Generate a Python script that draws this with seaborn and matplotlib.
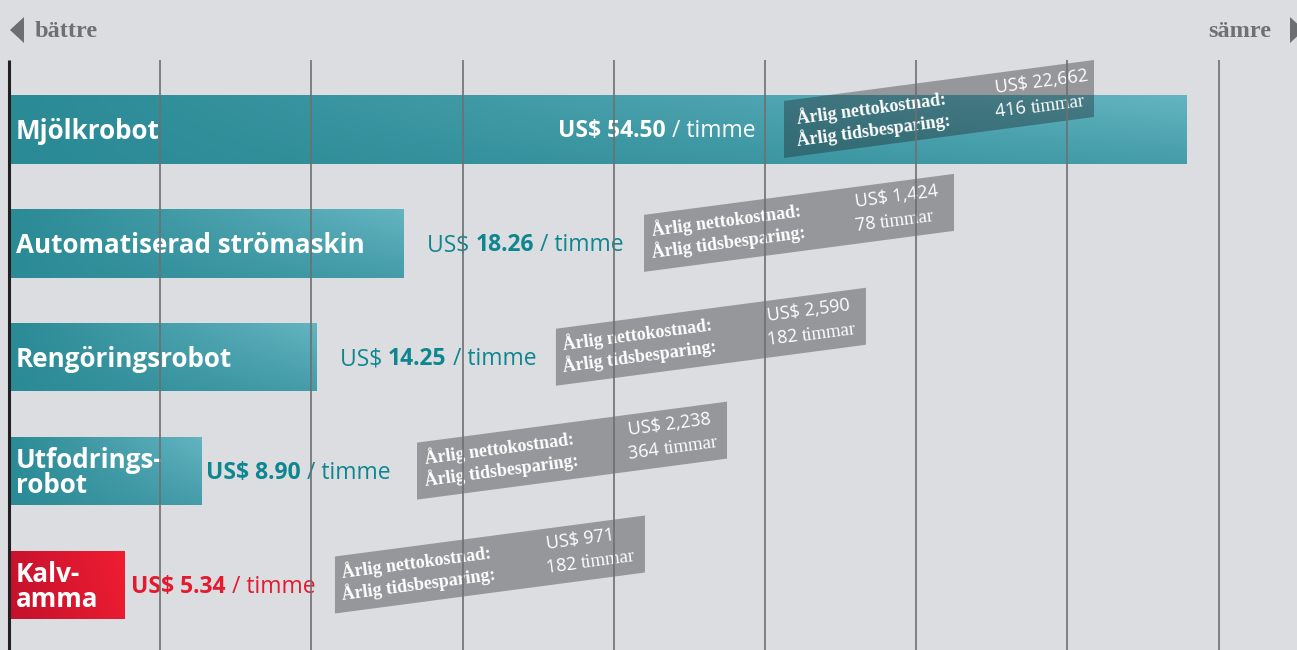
import numpy as np
import pandas as pd
import matplotlib
matplotlib.use('Agg')
import matplotlib.pyplot as plt
import seaborn as sns
from matplotlib.patches import Polygon
from matplotlib.colors import LinearSegmentedColormap

# Data
categories = ['Mjölkrobot', 'Automatiserad strömaskin', 'Rengöringsrobot',
              'Utfodrings-\nrobot', 'Kalv-\namma']
cost_per_hour = [54.50, 18.26, 14.25, 8.90, 5.34]
annual_net_cost = [22662, 1424, 2590, 2238, 971]
annual_hours_saved = [416, 78, 182, 364, 182]
bold_prefix = [True, False, False, True, True]   # "US$" bold or not

# Layout / style
BG = '#dcdde0'
TEAL = '#3a9aa6'
RED = '#e41a2e'
TEAL_TEXT = '#0e8690'
GRAY_TXT = '#6f7073'
SANS = 'Open Sans'
SERIF = 'Liberation Serif'
PX = 21.6          # pixels per unit on x
PY = 113.9         # pixels per category on y
value_label_x = [25.42, 19.35, 15.32, 9.12, 5.65]
box_x = [35.88, 29.4, 25.32, 18.89, 15.09]
label_colors = ['white', TEAL_TEXT, TEAL_TEXT, TEAL_TEXT, RED]
TAN = 41 / 310
ANG = np.degrees(np.arctan(TAN))

fig = plt.figure(figsize=(12.97, 6.5), dpi=100, facecolor=BG)
ax = fig.add_axes([0, 0, 1, 1])
ax.set_facecolor(BG)
renderer = fig.canvas.get_renderer()

df = pd.DataFrame({'kategori': categories, 'kostnad': cost_per_hour})
sns.barplot(data=df, x='kostnad', y='kategori', hue='kategori',
            palette=[TEAL] * 4 + [RED], width=0.6, orient='h', legend=False,
            saturation=1, ax=ax, zorder=2)

teal_cmap = LinearSegmentedColormap.from_list('teal', ['#2a8a95', '#64b4c1'])
red_cmap = LinearSegmentedColormap.from_list('red', ['#c2112d', '#f01d31'])
bars = sorted(ax.patches, key=lambda p: p.get_y())
xs = np.linspace(0, 1, 200)[None, :]
ys = np.linspace(1, 0, 40)[:, None]
for i, p in enumerate(bars):
    x0, w, y0, h = p.get_x(), p.get_width(), p.get_y(), p.get_height()
    if i == 4:
        z = 0.85 * xs + 0.15 * ys
        cmap = red_cmap
    else:
        z = xs * (0.45 + 0.55 * ys)
        cmap = teal_cmap
    im = ax.imshow(z, cmap=cmap, vmin=0, vmax=1, extent=(x0, x0 + w, y0 + h, y0),
                   origin='upper', aspect='auto', zorder=2.5)
    im.set_clip_path(p)

# labels inside bars
for i, name in enumerate(categories):
    ax.annotate(name, xy=(0, i), xytext=(7, -2), textcoords='offset pixels',
                ha='left', va='center', color='white', fontsize=18.7,
                fontweight='bold', family=SANS, linespacing=0.9, zorder=4)

# value per hour labels, built from pieces
for i, v in enumerate(cost_per_hour):
    if bold_prefix[i]:
        parts = [(f'US$ {v:.2f}', 'bold'), (' / timme', 'normal')]
    else:
        parts = [('US$ ', 'normal'), (f'{v:.2f}', 'bold'), (' / timme', 'normal')]
    t = ax.annotate(parts[0][0], xy=(value_label_x[i], i), xytext=(0, -8),
                    textcoords='offset pixels', ha='left', va='baseline',
                    color=label_colors[i], fontsize=16.5, fontweight=parts[0][1],
                    family=SANS, zorder=4)
    for s, wt in parts[1:]:
        t = ax.annotate(s, xy=(1, 0), xycoords=t, ha='left', va='bottom',
                        color=label_colors[i], fontsize=16.5, fontweight=wt,
                        family=SANS, zorder=4)


def text_width(s, **kw):
    tmp = fig.text(0, 0, s, **kw)
    w = tmp.get_window_extent(renderer=renderer).width
    tmp.remove()
    return w


# sheared annotation boxes
box_w = 310 / PX
hh = 28.5 / PY
rise = 41 / PY
for i, x0 in enumerate(box_x):
    verts = [(x0, i - hh), (x0 + box_w, i - hh - rise),
             (x0 + box_w, i + hh - rise), (x0, i + hh)]
    ax.add_patch(Polygon(verts, closed=True, facecolor='#1e1f24', alpha=0.37,
                         edgecolor='none', zorder=5))

    def put(u, v, s, **kw):
        return ax.annotate(s, xy=(x0, i), xytext=(u, v + u * TAN),
                           textcoords='offset pixels', rotation=ANG,
                           rotation_mode='anchor', ha='left', va='baseline',
                           color='white', zorder=6, **kw)

    u0 = 13 if i == 0 else 8
    dv = -2 if i == 0 else 0
    put(u0, 6 + dv, 'Årlig nettokostnad:', fontsize=13, fontweight='bold', family=SERIF)
    put(u0, -16 + dv, 'Årlig tidsbesparing:', fontsize=13, fontweight='bold', family=SERIF)
    put(212, 8, f'US$ {annual_net_cost[i]:,}', fontsize=13, family=SANS)
    num = f'{annual_hours_saved[i]} '
    put(212, -16, num, fontsize=13, family=SANS)
    nw = text_width(num, fontsize=13, family=SANS)
    put(212 + nw, -16, 'timmar', fontsize=13.5, family=SERIF)

# gridlines and left axis line on top
grid_x = [7 * k for k in range(1, 9)]
top = 1 - 60 / 650
ax.vlines(grid_x, 0, top, transform=ax.get_xaxis_transform(),
          color='#6e6f72', lw=1.4, alpha=0.85, zorder=10)
ax.vlines([0], 0, top, transform=ax.get_xaxis_transform(),
          color='#231f20', lw=2.2, zorder=11)

ax.set_xlim(-9 / PX, 1288 / PX)
ax.set_ylim(4 + (650 - 585) / PY, -129.5 / PY)
ax.set_axis_off()

# top direction hints
fig.text(35 / 1297, 1 - 37 / 650, 'bättre', ha='left', va='baseline',
         color=GRAY_TXT, fontsize=17.5, fontweight='bold', family=SERIF)
fig.text(1271 / 1297, 1 - 37 / 650, 'sämre', ha='right', va='baseline',
         color=GRAY_TXT, fontsize=17.5, fontweight='bold', family=SERIF)
fig.patches.append(Polygon([(10 / 1297, 1 - 30 / 650), (24 / 1297, 1 - 17 / 650),
                            (24 / 1297, 1 - 43 / 650)], closed=True,
                           transform=fig.transFigure, facecolor='#6d6e71',
                           edgecolor='none'))
fig.patches.append(Polygon([(1304 / 1297, 1 - 30 / 650), (1290 / 1297, 1 - 17 / 650),
                            (1290 / 1297, 1 - 43 / 650)], closed=True,
                           transform=fig.transFigure, facecolor='#6d6e71',
                           edgecolor='none'))

fig.savefig('out.png', dpi=100, facecolor=BG)
